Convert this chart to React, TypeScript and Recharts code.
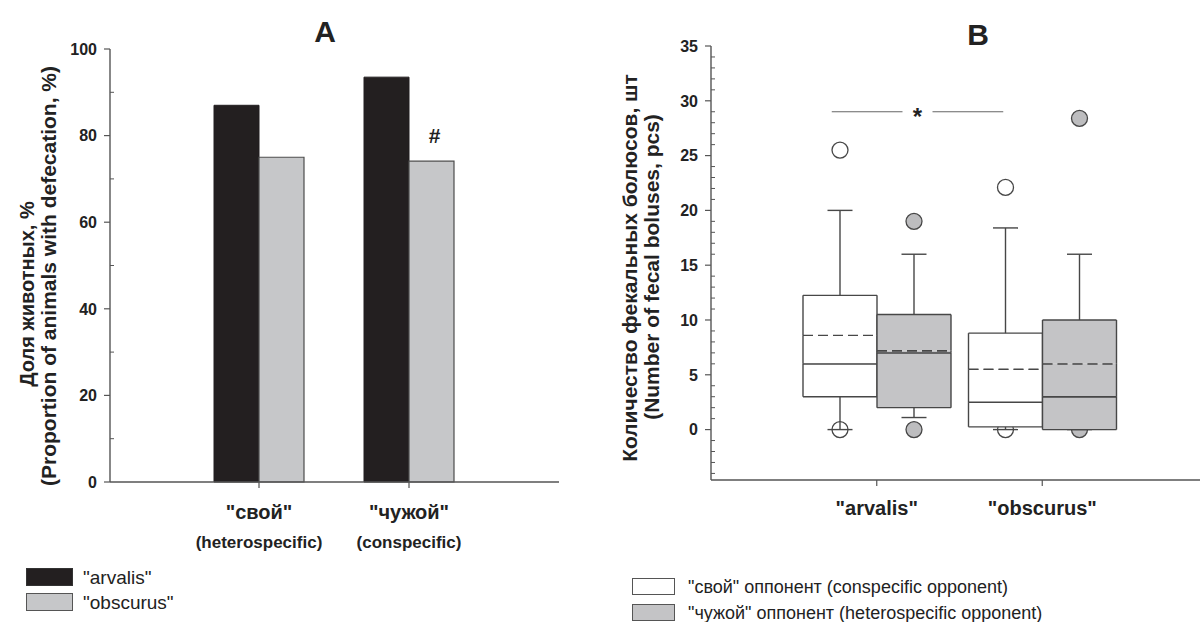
import React from 'react';
import { BarChart, Bar, XAxis, YAxis, LabelList, ReferenceLine } from 'recharts';

const FONT = '"Liberation Sans", Arial, Helvetica, sans-serif';
const INK = '#222';
const AXIS = '#555';
const LINE = '#474747';
const BLACK = '#231f20';
const GREY = '#c6c7c9';
const BOX_GREY = '#c4c4c6';

// ---- panel A: share of animals with defecation, %
const groupsA = ['"свой"', '"чужой"'];
const groupNotesA = ['(heterospecific)', '(conspecific)'];
const arvalisShare = [87.0, 93.5];
const obscurusShare = [75.0, 74.1];
const marksA = ['', '#'];
const ticksA = [0, 10, 20, 30, 40, 50, 60, 70, 80, 90, 100];

// ---- panel B: number of fecal boluses (box plots)
const speciesB = ['"arvalis"', '"obscurus"'];
// "свой" opponent (white boxes)
const ownOutLow = [0, 0];
const ownWhiskerLow = [0, 0];
const ownQ1 = [3, 0.25];
const ownMedian = [6, 2.5];
const ownMean = [8.6, 5.5];
const ownQ3 = [12.25, 8.8];
const ownWhiskerHigh = [20, 18.4];
const ownOutHigh = [25.5, 22.1];
// "чужой" opponent (grey boxes)
const alienOutLow = [0, 0];
const alienWhiskerLow = [1.1, 0];
const alienQ1 = [2, 0];
const alienMedian = [7, 3];
const alienMean = [7.2, 6];
const alienQ3 = [10.5, 10];
const alienWhiskerHigh = [16, 16];
const alienOutHigh = [19, 28.4];
const ticksB = [-4, -3, -2, -1, 0, 1, 2, 3, 4, 5, 6, 7, 8, 9, 10, 11, 12, 13, 14, 15, 16, 17, 18, 19, 20,
  21, 22, 23, 24, 25, 26, 27, 28, 29, 30, 31, 32, 33, 34, 35];
const sigLevel = 29;
const sigText = '*';

const dataA = groupsA.map((g, i) => ({
  group: g,
  arvalis: arvalisShare[i],
  obscurus: obscurusShare[i],
  mark: marksA[i],
}));

function segments(p: string, s: any, i: number) {
  return {
    [p + 'OutLow']: s.outLow[i],
    [p + 'Base']: s.wLow[i] - s.outLow[i],
    [p + 'WLow']: s.q1[i] - s.wLow[i],
    [p + 'Box1']: s.med[i] - s.q1[i],
    [p + 'Box2']: s.mean[i] - s.med[i],
    [p + 'Box3']: s.q3[i] - s.mean[i],
    [p + 'WHigh']: s.wHigh[i] - s.q3[i],
    [p + 'Gap']: s.outHigh[i] - s.wHigh[i],
  };
}

const own = { outLow: ownOutLow, wLow: ownWhiskerLow, q1: ownQ1, med: ownMedian, mean: ownMean, q3: ownQ3, wHigh: ownWhiskerHigh, outHigh: ownOutHigh };
const alien = { outLow: alienOutLow, wLow: alienWhiskerLow, q1: alienQ1, med: alienMedian, mean: alienMean, q3: alienQ3, wHigh: alienWhiskerHigh, outHigh: alienOutHigh };

const dataB = speciesB.map((s, i) => ({ species: s, ...segments('o', own, i), ...segments('a', alien, i) }));

// ---- tick renderers
function YTick(props: any, step: number, minLabel: number) {
  const { x, y, payload } = props;
  const v = payload.value;
  const major = Math.abs(v % step) < 1e-6;
  return (
    <g>
      {major ? (
        <line x1={x - 6} x2={x} y1={y} y2={y} stroke={AXIS} strokeWidth={1.2} />
      ) : (
        <line x1={x} x2={x + 4} y1={y} y2={y} stroke={AXIS} strokeWidth={1} />
      )}
      {major && v >= minLabel && (
        <text x={x - 13} y={y} dy="0.36em" textAnchor="end" fontFamily={FONT} fontWeight="bold" fontSize={16} fill={INK}>
          {v}
        </text>
      )}
    </g>
  );
}

function XTickA(props: any) {
  const { x, y, payload, index } = props;
  const i = typeof index === 'number' ? index : groupsA.indexOf(payload.value);
  return (
    <g>
      <text x={x} y={y + 31} textAnchor="middle" fontFamily={FONT} fontWeight="bold" fontSize={20} fill={INK}>
        {payload.value}
      </text>
      <text x={x} y={y + 60} textAnchor="middle" fontFamily={FONT} fontWeight="bold" fontSize={17} fill={INK}>
        {groupNotesA[i]}
      </text>
    </g>
  );
}

function XTickB(props: any) {
  const { x, y, payload } = props;
  return (
    <text x={x} y={y + 29} textAnchor="middle" fontFamily={FONT} fontWeight="bold" fontSize={20} fill={INK}>
      {payload.value}
    </text>
  );
}

function MarkLabel(props: any) {
  const { x, y, width, value } = props;
  if (!value) return null;
  return (
    <text x={x + width / 2 + 3} y={y - 18} textAnchor="middle" fontFamily={FONT} fontWeight="bold" fontSize={21} fill={INK}>
      {value}
    </text>
  );
}

// ---- box plot pieces (one stacked bar segment each)
const hidden = () => <g />;

const outlier = (fill: string) => (p: any) => (
  <circle cx={p.x + p.width / 2} cy={p.y} r={8} fill={fill} stroke={LINE} strokeWidth={1.3} />
);

const whisker = (capAtTop: boolean) => (p: any) => {
  const cx = p.x + p.width / 2;
  const cy = capAtTop ? p.y : p.y + p.height;
  return (
    <g stroke={LINE} strokeWidth={1.4}>
      <line x1={cx} x2={cx} y1={p.y} y2={p.y + p.height} />
      <line x1={cx - 12.5} x2={cx + 12.5} y1={cy} y2={cy} />
    </g>
  );
};

const boxPart = (fill: string, topDash: boolean, bottomDash: boolean) => (p: any) => {
  const { x, y, width: w } = p;
  const h = Math.max(p.height, 0);
  return (
    <g stroke={LINE} strokeWidth={1.4}>
      <rect x={x} y={y} width={w} height={h} fill={fill} stroke="none" />
      <line x1={x} x2={x} y1={y} y2={y + h} />
      <line x1={x + w} x2={x + w} y1={y} y2={y + h} />
      <line x1={x} x2={x + w} y1={y + h} y2={y + h} strokeDasharray={bottomDash ? '10 5' : undefined} />
      <line x1={x} x2={x + w} y1={y} y2={y} strokeDasharray={topDash ? '10 5' : undefined} />
    </g>
  );
};

function boxBars(prefix: string, fill: string, dotFill: string) {
  const parts: [string, any][] = [
    ['OutLow', outlier(dotFill)],
    ['Base', hidden],
    ['WLow', whisker(false)],
    ['Box1', boxPart(fill, false, false)],
    ['Box2', boxPart(fill, true, false)],
    ['Box3', boxPart(fill, false, true)],
    ['WHigh', whisker(true)],
    ['Gap', outlier(dotFill)],
  ];
  return parts.map(([k, shape]) => (
    <Bar key={prefix + k} dataKey={prefix + k} stackId={prefix} fill={fill} shape={shape} isAnimationActive={false} />
  ));
}

function SigShape(p: any) {
  const { x1, y1, x2 } = p;
  const left = x1 - 45;
  const right = x2 - 39;
  const mid = (left + right) / 2;
  return (
    <g>
      <line x1={left} x2={mid - 15} y1={y1} y2={y1} stroke="#666" strokeWidth={1} />
      <line x1={mid + 15} x2={right} y1={y1} y2={y1} stroke="#666" strokeWidth={1} />
      <text x={mid} y={y1 + 13} textAnchor="middle" fontFamily={FONT} fontWeight="bold" fontSize={24} fill={INK}>
        {sigText}
      </text>
    </g>
  );
}

// ---- free text helpers
const centered = (x: number, y: number, extra: React.CSSProperties = {}): React.CSSProperties => ({
  position: 'absolute',
  left: x,
  top: y,
  transform: 'translate(-50%, -50%)',
  whiteSpace: 'nowrap',
  lineHeight: 1,
  ...extra,
});

const vertical = (x: number, y: number, size: number): React.CSSProperties => ({
  position: 'absolute',
  left: x,
  top: y,
  transform: 'translate(-50%, -50%) rotate(-90deg)',
  whiteSpace: 'nowrap',
  lineHeight: 1,
  fontWeight: 'bold',
  fontSize: size,
});

const swatch = (x: number, y: number, w: number, h: number, fill: string, border: string): React.CSSProperties => ({
  position: 'absolute',
  left: x,
  top: y,
  width: w,
  height: h,
  background: fill,
  border: `1.5px solid ${border}`,
  boxSizing: 'border-box',
});

export default function App() {
  return (
    <div
      style={{
        position: 'absolute',
        left: 0,
        top: 0,
        width: 1200,
        height: 622,
        overflow: 'hidden',
        background: '#fff',
        fontFamily: FONT,
        color: INK,
      }}
    >
      {/* Panel A */}
      <div style={{ position: 'absolute', left: 0, top: 0 }}>
        <BarChart width={600} height={622} data={dataA} margin={{ top: 49, right: 41, bottom: 80, left: 50 }} barSize={45} barGap={0}>
          <XAxis
            dataKey="group"
            padding={{ left: 74, right: 75 }}
            height={60}
            tickSize={6}
            tickMargin={0}
            axisLine={{ stroke: AXIS, strokeWidth: 1.4 }}
            tickLine={{ stroke: AXIS, strokeWidth: 1.2 }}
            tick={(p: any) => <XTickA {...p} />}
            interval={0}
          />
          <YAxis
            domain={[0, 100]}
            ticks={ticksA}
            width={60}
            tickSize={0}
            tickMargin={0}
            tickLine={false}
            axisLine={{ stroke: AXIS, strokeWidth: 1.4 }}
            tick={(p: any) => YTick(p, 20, 0)}
            interval={0}
          />
          <Bar dataKey="arvalis" fill={BLACK} stroke={BLACK} isAnimationActive={false} />
          <Bar dataKey="obscurus" fill={GREY} stroke="#4d4d4d" strokeWidth={1.2} isAnimationActive={false}>
            <LabelList dataKey="mark" content={MarkLabel} />
          </Bar>
        </BarChart>
      </div>

      {/* Panel B */}
      <div style={{ position: 'absolute', left: 600, top: 0 }}>
        <BarChart width={600} height={622} data={dataB} margin={{ top: 46, right: 0, bottom: 82, left: 51 }} barSize={74} barGap={0}>
          <XAxis
            dataKey="species"
            padding={{ left: 83, right: 75 }}
            height={60}
            tickSize={6}
            tickMargin={0}
            axisLine={{ stroke: AXIS, strokeWidth: 1.4 }}
            tickLine={{ stroke: AXIS, strokeWidth: 1.2 }}
            tick={(p: any) => <XTickB {...p} />}
            interval={0}
          />
          <YAxis
            domain={[-4.6, 35]}
            ticks={ticksB}
            width={60}
            tickSize={0}
            tickMargin={0}
            tickLine={false}
            axisLine={{ stroke: AXIS, strokeWidth: 1.4 }}
            tick={(p: any) => YTick(p, 5, 0)}
            interval={0}
            allowDataOverflow
          />
          {boxBars('o', '#ffffff', '#ffffff')}
          {boxBars('a', BOX_GREY, '#bdbdbf')}
          <ReferenceLine
            segment={[
              { x: speciesB[0], y: sigLevel },
              { x: speciesB[1], y: sigLevel },
            ]}
            shape={SigShape}
          />
        </BarChart>
      </div>

      {/* titles */}
      <div style={centered(325, 32, { fontSize: 30, fontWeight: 'bold' })}>A</div>
      <div style={centered(978, 35, { fontSize: 30, fontWeight: 'bold' })}>B</div>

      {/* y axis titles */}
      <div style={vertical(27, 294, 20)}>Доля животных, %</div>
      <div style={vertical(48, 276, 21)}>(Proportion of animals with defecation, %)</div>
      <div style={vertical(629, 268, 21)}>Количество фекальных болюсов, шт</div>
      <div style={vertical(651, 267, 21)}>(Number of fecal boluses, pcs)</div>

      {/* legend A */}
      <div style={swatch(26, 568, 47, 18, BLACK, '#333')} />
      <div style={swatch(26, 593, 47, 18, GREY, '#555')} />
      <div style={{ position: 'absolute', left: 83, top: 567, fontSize: 19, lineHeight: '22px' }}>"arvalis"</div>
      <div style={{ position: 'absolute', left: 83, top: 592, fontSize: 19, lineHeight: '22px' }}>"obscurus"</div>

      {/* legend B */}
      <div style={swatch(632, 578, 43, 17, '#ffffff', '#555')} />
      <div style={swatch(632, 604, 43, 17, BOX_GREY, '#555')} />
      <div style={{ position: 'absolute', left: 688, top: 576, fontSize: 18, lineHeight: '22px' }}>
        "свой" оппонент (conspecific opponent)
      </div>
      <div style={{ position: 'absolute', left: 688, top: 602, fontSize: 18, lineHeight: '22px' }}>
        "чужой" оппонент (heterospecific opponent)
      </div>
    </div>
  );
}
